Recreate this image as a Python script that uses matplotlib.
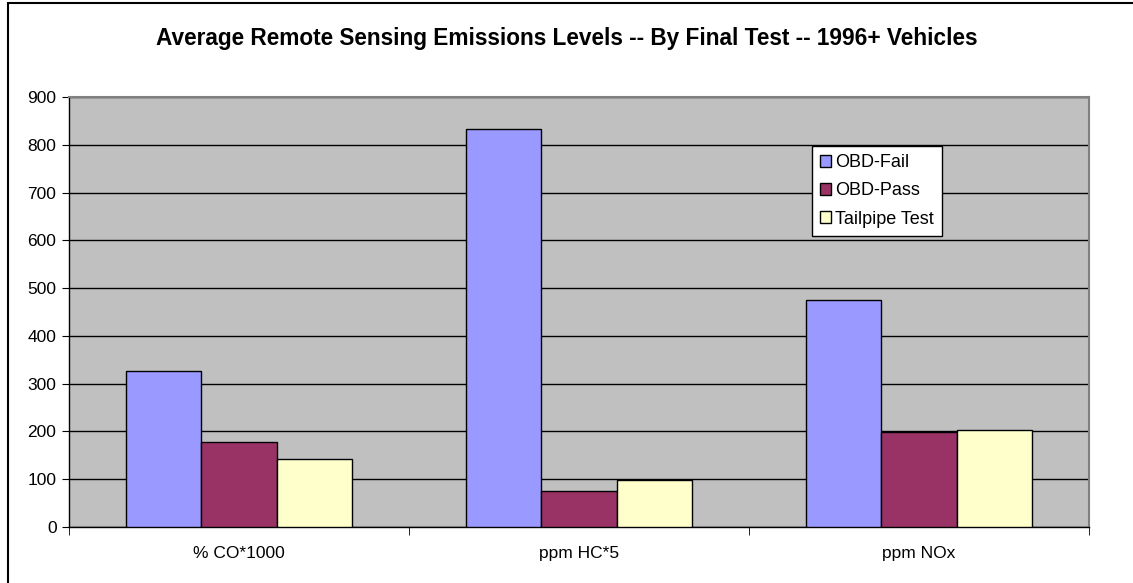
import numpy as np
import matplotlib.pyplot as plt
from matplotlib.patches import Rectangle

plt.rcParams['font.family'] = ['Liberation Sans', 'DejaVu Sans']

categories = ['% CO*1000', 'ppm HC*5', 'ppm NOx']
series = ['OBD-Fail', 'OBD-Pass', 'Tailpipe Test']
obd_fail = [326, 833, 476]
obd_pass = [178, 76, 199]
tailpipe = [143, 98, 203]
colors = ['#9999FF', '#993366', '#FFFFCC']
yticks = [0, 100, 200, 300, 400, 500, 600, 700, 800, 900]

W, H = 1133, 583
fig = plt.figure(figsize=(W / 100, H / 100), dpi=100)
fig.patch.set_facecolor('white')

# outer chart border (right and bottom edges fall outside the image)
fig.add_artist(Rectangle((8 / W, -10 / H), (W + 20) / W, (H + 7) / H,
                         transform=fig.transFigure, fill=False,
                         edgecolor='black', linewidth=1.5))

# plot area in pixels: x 69..1089, y 97..527
ax = fig.add_axes([69 / W, 1 - 527 / H, 1020 / W, 430 / H])
ax.set_facecolor('#C0C0C0')

x = np.arange(len(categories))
bw = 1 / 4.5
for i, (vals, name) in enumerate(zip([obd_fail, obd_pass, tailpipe], series)):
    ax.bar(x + (i - 1) * bw, vals, bw, color=colors[i], edgecolor='black',
           linewidth=1, label=name, zorder=3)

ax.set_xlim(-0.5, 2.5)
ax.set_ylim(0, 900)
ax.set_yticks(yticks)
ax.yaxis.grid(True, color='black', linewidth=1, zorder=0)
ax.set_axisbelow(True)

ax.set_xticks(x)
ax.set_xticklabels(categories, fontsize=12.5)
ax.tick_params(axis='x', length=0, pad=14)
ax.set_xticks([-0.5, 0.5, 1.5, 2.5], minor=True)
ax.tick_params(axis='x', which='minor', length=6, direction='out', color='black')
ax.tick_params(axis='y', labelsize=12.5, length=5, direction='out', pad=4)

for s in ['top', 'right']:
    ax.spines[s].set_color('#808080')
    ax.spines[s].set_linewidth(1.5)
for s in ['left', 'bottom']:
    ax.spines[s].set_color('black')
    ax.spines[s].set_linewidth(1)

leg = ax.legend(loc='upper left', bbox_to_anchor=(0.728, 0.886), fontsize=13,
                frameon=True, fancybox=False, handlelength=0.6, handleheight=0.6,
                handletextpad=0.25, borderpad=0.45, labelspacing=0.62,
                borderaxespad=0)
leg.get_frame().set_edgecolor('black')
leg.get_frame().set_linewidth(1)
leg.get_frame().set_facecolor('white')
leg.get_frame().set_alpha(1)

fig.text(0.5, 1 - 38 / H, 'Average Remote Sensing Emissions Levels -- By Final Test -- 1996+ Vehicles',
         ha='center', va='center', fontsize=16.3, fontweight='bold')

fig.savefig('out.png', dpi=100)
